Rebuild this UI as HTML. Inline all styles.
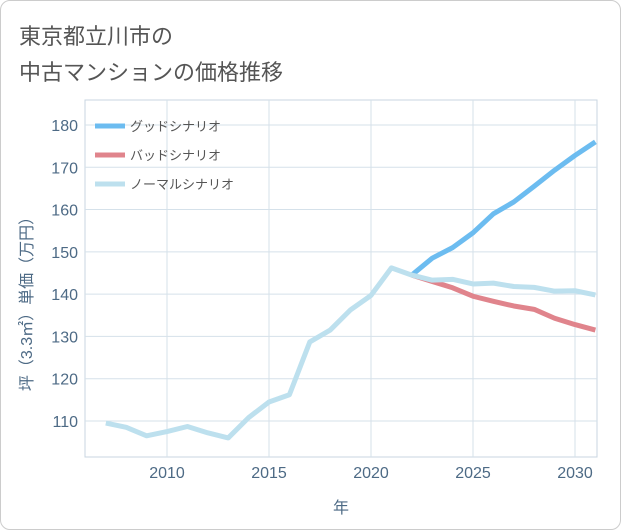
<!DOCTYPE html>
<html><head><meta charset="utf-8">
<style>
body{margin:0;background:#fff;}
#card{position:absolute;left:0;top:0;width:619px;height:528px;border:1px solid #ccc;border-radius:10px;background:#fff;}
.title{position:absolute;left:18px;font-family:"Liberation Sans","Noto Sans CJK JP",sans-serif;font-size:22px;color:#555;}
svg text{font-family:"Liberation Sans","Noto Sans CJK JP",sans-serif;}
</style></head><body>
<div id="card">
<div class="title" style="top:18px">東京都立川市の</div>
<div class="title" style="top:54px">中古マンションの価格推移</div>
</div>
<svg id="chart" width="621" height="530" style="position:absolute;left:0;top:0"></svg>
<script>
const normalYears=[2007,2008,2009,2010,2011,2012,2013,2014,2015,2016,2017,2018,2019,2020,2021,2022,2023,2024,2025,2026,2027,2028,2029,2030,2031];
const normalVals=[109.5,108.5,106.5,107.5,108.7,107.2,106,110.8,114.5,116.2,128.7,131.5,136.3,139.7,146.2,144.5,143.3,143.5,142.4,142.6,141.8,141.6,140.7,140.8,139.8];
const futureYears=[2022,2023,2024,2025,2026,2027,2028,2029,2030,2031];
const goodVals=[144.5,148.5,151,154.5,159,161.8,165.5,169.3,172.8,176];
const badVals=[144.5,143,141.5,139.5,138.3,137.2,136.4,134.3,132.8,131.5];
const xTicks=[2010,2015,2020,2025,2030];
const yTicks=[110,120,130,140,150,160,170,180];
const legendLabels=["グッドシナリオ","バッドシナリオ","ノーマルシナリオ"];
const NS="http://www.w3.org/2000/svg";
const svg=document.getElementById('chart');
const L=85,R=597,T=100,B=457;
const x=y=>167+(y-2010)*20.4;
const yv=v=>421-(v-110)*4.229;
function mk(tag,at){const e=document.createElementNS(NS,tag);for(const k in at)e.setAttribute(k,at[k]);svg.appendChild(e);return e;}
const frame=mk('rect',{x:L,y:T,width:R-L,height:B-T,fill:'none',stroke:'#c8d6e0'});


xTicks.forEach(t=>{
 const g=mk('line',{x1:x(t),x2:x(t),y1:T,y2:B,stroke:'#d5e1ea'});
 
 
 const tx=mk('text',{x:x(t),y:478,'text-anchor':'middle','font-size':16,fill:'#4d6a85'});tx.textContent=t;
 
 
});
yTicks.forEach(t=>{
 const g=mk('line',{x1:L,x2:R,y1:yv(t),y2:yv(t),stroke:'#d5e1ea'});
 
 
 const tx=mk('text',{x:78,y:yv(t)+6,'text-anchor':'end','font-size':16,fill:'#4d6a85'});tx.textContent=t;
 
 
});
const xt=mk('text',{x:341,y:513,'text-anchor':'middle','font-size':16,fill:'#4d6a85'});xt.textContent='年';


const yt=mk('text',{x:0,y:0,'text-anchor':'middle','font-size':16,fill:'#4d6a85',transform:'translate(32,300) rotate(-90)'});yt.textContent='坪（3.3㎡）単価（万円）';


function line(xs,vs,color,name){
 const p=mk('polyline',{points:xs.map((a,i)=>x(a)+','+yv(vs[i])).join(' '),fill:'none',stroke:color,'stroke-width':5,'stroke-linejoin':'round'});
 
 
}
const clip=mk('clipPath',{id:'c'});
const cr=document.createElementNS(NS,'rect');cr.setAttribute('x',L);cr.setAttribute('y',T);cr.setAttribute('width',R-L);cr.setAttribute('height',B-T);clip.appendChild(cr);
line(futureYears,goodVals,'#6cbcf0','good-scenario-line');
line(futureYears,badVals,'#e0848c','bad-scenario-line');
line(normalYears,normalVals,'#bde0ee','normal-scenario-line');
svg.querySelectorAll('polyline').forEach(p=>p.setAttribute('clip-path','url(#c)'));
const lc=['#6cbcf0','#e0848c','#bde0ee'];
legendLabels.forEach((s,i)=>{
 const yy=126+i*29;
 const l=mk('line',{x1:95,x2:125,y1:yy,y2:yy,stroke:lc[i],'stroke-width':5});
 
 
 const t=mk('text',{x:130,y:yy+5,'font-size':13,fill:'#555'});t.textContent=s;
 
 
});
</script>
</body></html>
